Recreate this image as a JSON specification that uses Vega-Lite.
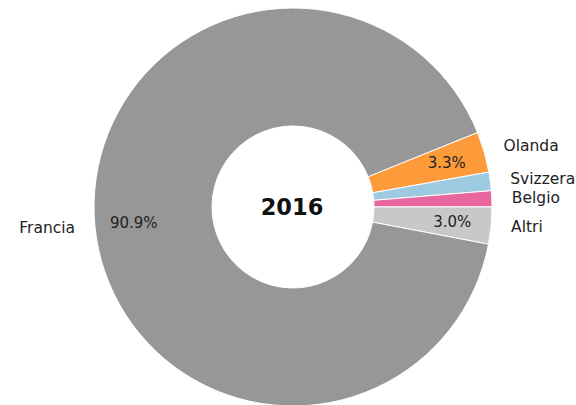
{
  "$schema": "https://vega.github.io/schema/vega-lite/v6.json",
  "autosize": "none",
  "width": 566,
  "height": 396,
  "padding": {"left": 10, "top": 9, "right": 0, "bottom": 0},
  "background": "white",
  "config": {"view": {"stroke": null}},
  "data": {
    "values": [
      {"paese": "Olanda", "quota": 0.033, "ordine": 1},
      {"paese": "Svizzera", "quota": 0.015, "ordine": 2},
      {"paese": "Belgio", "quota": 0.013, "ordine": 3},
      {"paese": "Altri", "quota": 0.030, "ordine": 4},
      {"paese": "Francia", "quota": 0.909, "ordine": 5}
    ]
  },
  "encoding": {
    "theta": {"field": "quota", "type": "quantitative", "stack": true, "scale": {"range": [1.187, 7.470]}},
    "order": {"field": "ordine", "type": "quantitative"}
  },
  "layer": [
    {
      "mark": {"type": "arc", "outerRadius": 199, "innerRadius": 81, "stroke": "white", "strokeWidth": 1},
      "encoding": {
        "color": {
          "field": "paese", "type": "nominal", "legend": null,
          "scale": {
            "domain": ["Olanda", "Svizzera", "Belgio", "Altri", "Francia"],
            "range": ["#fd9b3b", "#9ecae1", "#e8669e", "#c8c8c8", "#979797"]
          }
        }
      }
    },
    {
      "mark": {"type": "text", "radius": 219, "align": "left", "baseline": "middle", "font": "DejaVu Sans", "fontSize": 15.5, "color": "#222222"},
      "encoding": {
        "text": {"condition": {"test": "datum.paese !== 'Francia'", "field": "paese"}, "value": ""}
      }
    },
    {
      "mark": {"type": "text", "radius": 219, "align": "right", "baseline": "middle", "font": "DejaVu Sans", "fontSize": 15.5, "color": "#222222"},
      "encoding": {
        "text": {"condition": {"test": "datum.paese === 'Francia'", "field": "paese"}, "value": ""}
      }
    },
    {
      "mark": {"type": "text", "radius": 160, "align": "center", "baseline": "middle", "font": "DejaVu Sans", "fontSize": 15, "color": "#222222"},
      "encoding": {
        "text": {"condition": {"test": "datum.quota >= 0.02", "field": "quota", "format": ".1%"}, "value": ""}
      }
    },
    {
      "data": {"values": [{"anno": "2016"}]},
      "mark": {"type": "text", "align": "center", "baseline": "middle", "font": "DejaVu Sans", "fontSize": 22.5, "fontWeight": "bold", "color": "#111111", "dy": 1, "dx": -1},
      "encoding": {
        "text": {"field": "anno", "type": "nominal"},
        "theta": null,
        "order": null
      }
    }
  ]
}
